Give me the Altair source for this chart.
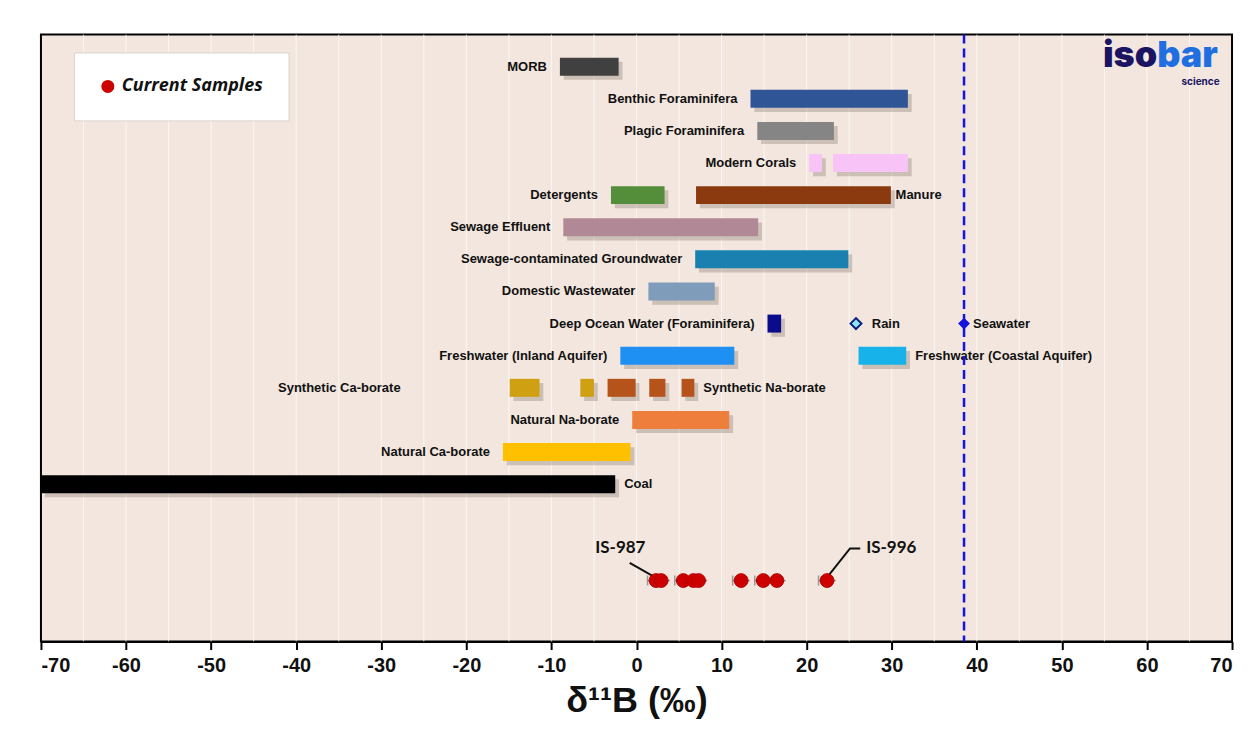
import altair as alt
import pandas as pd

# ---------------- data ----------------
bar_names = ["MORB", "Benthic Foraminifera", "Plagic Foraminifera", "Modern Corals", "Modern Corals",
             "Detergents", "Manure", "Sewage Effluent", "Sewage-contaminated Groundwater",
             "Domestic Wastewater", "Deep Ocean Water (Foraminifera)", "Freshwater (Inland Aquifer)",
             "Freshwater (Coastal Aquifer)", "Synthetic Ca-borate", "Synthetic Ca-borate",
             "Synthetic Na-borate", "Synthetic Na-borate", "Synthetic Na-borate",
             "Natural Na-borate", "Natural Ca-borate", "Coal"]
bar_lo = [-9.0, 13.4, 14.2, 20.3, 23.1, -3.0, 7.0, -8.6, 6.9, 1.4, 15.4, -1.9, 26.1,
          -14.9, -6.6, -3.4, 1.5, 5.3, -0.5, -15.7, -70.0]
bar_hi = [-2.1, 31.9, 23.2, 21.8, 31.9, 3.3, 29.9, 14.3, 24.9, 9.2, 17.0, 11.5, 31.7,
          -11.4, -5.0, -0.1, 3.4, 6.8, 10.9, -0.7, -2.5]
bar_row = [1, 2, 3, 4, 4, 5, 5, 6, 7, 8, 9, 10, 10, 11, 11, 11, 11, 11, 12, 13, 14]

color_names = ["MORB", "Benthic Foraminifera", "Plagic Foraminifera", "Modern Corals", "Detergents",
               "Manure", "Sewage Effluent", "Sewage-contaminated Groundwater", "Domestic Wastewater",
               "Deep Ocean Water (Foraminifera)", "Freshwater (Inland Aquifer)",
               "Freshwater (Coastal Aquifer)", "Synthetic Ca-borate", "Synthetic Na-borate",
               "Natural Na-borate", "Natural Ca-borate", "Coal"]
color_values = ["#404040", "#2F5597", "#858585", "#F8C3F6", "#548E3A",
                "#8B3A0F", "#B08896", "#1A80B0", "#7F9CBB",
                "#0A0C8C", "#1E90F4",
                "#18B2EA", "#CFA012", "#B5531B",
                "#EE7E3B", "#FFC000", "#000000"]

label_text = ["MORB", "Benthic Foraminifera", "Plagic Foraminifera", "Modern Corals", "Detergents",
              "Manure", "Sewage Effluent", "Sewage-contaminated Groundwater", "Domestic Wastewater",
              "Deep Ocean Water (Foraminifera)", "Rain", "Seawater", "Freshwater (Inland Aquifer)",
              "Freshwater (Coastal Aquifer)", "Synthetic Ca-borate", "Synthetic Na-borate",
              "Natural Na-borate", "Natural Ca-borate", "Coal"]
label_x = [-9.0, 13.4, 14.2, 20.3, -3.0, 29.4, -8.6, 6.9, 1.4, 15.4, 26.6, 38.5, -1.9,
           31.7, -26.2, 6.8, -0.5, -15.7, -2.5]
label_row = [1, 2, 3, 4, 5, 5, 6, 7, 8, 9, 9, 9, 10, 10, 11, 11, 12, 13, 14]
label_side = ["L", "L", "L", "L", "L", "R", "L", "L", "L", "L", "R", "R", "L",
              "R", "L", "R", "L", "L", "R"]

rain_x = [25.8]
rain_row = [9]
seawater_x = [38.5]
seawater_row = [9]

sample_x = [2.3, 2.9, 5.5, 6.7, 7.3, 12.3, 14.9, 16.5, 22.4]
sample_err = [1.0, 1.0, 1.0, 1.0, 1.0, 1.0, 1.0, 1.0, 1.0]
sample_row = 17
sample_series = "Current Samples"

lead_x = [-0.8, 2.2, 22.4, 25.1, 26.3]
lead_row = [16.45, 16.9, 16.9, 16.0, 16.0]
lead_id = ["a", "a", "b", "b", "b"]

ann_text = ["IS-987", "IS-996"]
ann_x = [-1.9, 27.0]
ann_row = [16.0, 16.0]
ann_align = ["center", "left"]

grid_vals = [-65, -60, -55, -50, -45, -40, -35, -30, -25, -20, -15, -10, -5, 0, 5, 10, 15,
             20, 25, 30, 35, 40, 45, 50, 55, 60, 65]
tick_vals = [-70, -60, -50, -40, -30, -20, -10, 0, 10, 20, 30, 40, 50, 60, 70]

# ---------------- tables ----------------
bars = pd.DataFrame({"name": bar_names, "lo": bar_lo, "hi": bar_hi, "row": bar_row})
labels = pd.DataFrame({"text": label_text, "x": label_x, "row": label_row, "side": label_side})
samples = pd.DataFrame({"x": sample_x, "err": sample_err, "row": [sample_row] * len(sample_x),
                        "series": [sample_series] * len(sample_x)})
leads = pd.DataFrame({"x": lead_x, "row": lead_row, "id": lead_id, "order": list(range(len(lead_x)))})
anns = pd.DataFrame({"text": ann_text, "x": ann_x, "row": ann_row, "align": ann_align})
grid = pd.DataFrame({"x": grid_vals})

LABEL_FONT = "Liberation Sans, Arial, sans-serif"
NARROW = "Liberation Sans Narrow, Arial Narrow, Liberation Sans, Arial, sans-serif"

xscale = alt.Scale(domain=[-70, 70], nice=False, zero=False)
yscale = alt.Scale(domain=[0, 18.9], nice=False, zero=False, reverse=True)


def X(f="x"):
    return alt.X(f"{f}:Q", scale=xscale,
                 axis=alt.Axis(values=tick_vals, grid=False, title="δ¹¹B (‰)",
                               labelExpr="toString(datum.value)"))


def Y(f="row"):
    return alt.Y(f"{f}:Q", scale=yscale, axis=None)


grid_layer = alt.Chart(grid).mark_rule(color="#FFFFFF", strokeWidth=1.2, opacity=0.6).encode(x=X())

# soft drop shadow behind each bar (shifted a little right and down)
shadow = alt.Chart(bars).transform_calculate(
    sl="datum.lo + 0.45", sh="datum.hi + 0.45",
    y1="datum.row - 0.28 + 0.13", y2="datum.row + 0.28 + 0.13"
).mark_rect(color="#5A4A40", opacity=0.25, clip=True).encode(
    x=X("sl"), x2="sh", y=Y("y1"), y2="y2")

bar_layer = alt.Chart(bars).transform_calculate(
    y1="datum.row - 0.28", y2="datum.row + 0.28"
).mark_rect(clip=True).encode(
    x=X("lo"), x2="hi", y=Y("y1"), y2="y2",
    color=alt.Color("name:N", scale=alt.Scale(domain=color_names, range=color_values), legend=None))

left_labels = alt.Chart(labels).transform_filter("datum.side == 'L'").mark_text(
    align="right", baseline="middle", dx=-13, fontSize=13, fontWeight="bold", font=LABEL_FONT,
    color="#111111").encode(x=X(), y=Y(), text="text:N")
right_labels = alt.Chart(labels).transform_filter("datum.side == 'R'").mark_text(
    align="left", baseline="middle", dx=9, fontSize=13, fontWeight="bold", font=LABEL_FONT,
    color="#111111").encode(x=X(), y=Y(), text="text:N")

seawater_line = alt.Chart(pd.DataFrame({"x": seawater_x})).mark_rule(
    color="#1515DD", strokeWidth=2.5, strokeDash=[9, 5]).encode(x=X())

rain = alt.Chart(pd.DataFrame({"x": rain_x, "row": rain_row})).mark_point(
    shape="diamond", filled=True, fill="#8FE4F8", stroke="#0C1E7C", strokeWidth=2, size=120,
    opacity=1).encode(x=X(), y=Y())
seawater = alt.Chart(pd.DataFrame({"x": seawater_x, "row": seawater_row})).mark_point(
    shape="diamond", filled=True, color="#1414E0", size=140, opacity=1).encode(x=X(), y=Y())

err_layer = alt.Chart(samples).transform_calculate(
    lo="datum.x - datum.err", hi="datum.x + datum.err"
).mark_rule(color="#777777", strokeWidth=1.5).encode(x=X("lo"), x2="hi", y=Y())
err_caps = alt.Chart(samples).transform_calculate(
    lo="datum.x - datum.err"
).mark_tick(color="#777777", orient="vertical", size=10, thickness=1.5).encode(x=X("lo"), y=Y())

lead_layer = alt.Chart(leads).mark_line(color="#111111", strokeWidth=2).encode(
    x=X(), y=Y(), detail="id:N", order="order:Q")

sample_layer = alt.Chart(samples).mark_point(filled=True, size=190, opacity=1,
                                             stroke="#B00000", strokeWidth=1).encode(
    x=X(), y=Y(),
    color=alt.Color("series:N", scale=alt.Scale(domain=[sample_series], range=["#CC0000"]),
                    legend=alt.Legend(title=None, orient="none", legendX=33, legendY=18,
                                      fillColor="#FFFFFF", strokeColor="#D9D2CE", padding=25,
                                      symbolType="circle", symbolSize=170, symbolStrokeWidth=0,
                                      labelFont="Open Sans, Lato, sans-serif", labelFontSize=18,
                                      labelFontWeight="bold", labelFontStyle="italic",
                                      labelColor="#111111", labelOffset=5, labelLimit=300)))

ann_left = alt.Chart(anns).transform_filter("datum.align == 'center'").mark_text(
    align="center", baseline="middle", fontSize=17, fontWeight="bold",
    font="Lato, Open Sans, sans-serif", color="#111111").encode(x=X(), y=Y(), text="text:N")
ann_right = alt.Chart(anns).transform_filter("datum.align == 'left'").mark_text(
    align="left", baseline="middle", fontSize=17, fontWeight="bold",
    font="Lato, Open Sans, sans-serif", color="#111111").encode(x=X(), y=Y(), text="text:N")

logo_iso = alt.Chart(pd.DataFrame({"x": [61.2], "row": [1.02], "t": ["iso"]})).mark_text(
    align="right", baseline="alphabetic", fontSize=36, fontWeight=900, font="Inter, Lato, sans-serif",
    color="#1B1463").encode(x=X(), y=Y(), text="t:N")
logo_bar = alt.Chart(pd.DataFrame({"x": [61.2], "row": [1.02], "t": ["bar"]})).mark_text(
    align="left", baseline="alphabetic", fontSize=36, fontWeight=900, font="Inter, Lato, sans-serif",
    color="#1F6FE0").encode(x=X(), y=Y(), text="t:N")
logo_sci = alt.Chart(pd.DataFrame({"x": [66.3], "row": [1.33], "t": ["science"]})).mark_text(
    align="center", baseline="top", fontSize=10, fontWeight="bold", font="Inter, Lato, sans-serif",
    color="#1B1463").encode(x=X(), y=Y(), text="t:N")

chart = alt.layer(
    grid_layer, shadow, bar_layer, left_labels, right_labels, seawater_line, rain, seawater,
    err_layer, err_caps, lead_layer, sample_layer, ann_left, ann_right, logo_iso, logo_bar, logo_sci
).resolve_scale(
    color="independent"
).properties(
    width=1193, height=608, background="#FFFFFF",
    padding={"left": 32, "top": 24, "right": 16, "bottom": 4}
).configure_view(
    fill="#F2E6DE", stroke="#000000", strokeWidth=2
).configure_axisX(
    domainColor="#000000", domainWidth=2, tickColor="#000000", tickWidth=2, tickSize=8,
    labelFont=NARROW, labelFontSize=20, labelFontWeight="bold", labelColor="#111111", labelPadding=6,
    titleFont=NARROW, titleFontSize=36, titleFontWeight="bold", titleColor="#111111", titlePadding=8
)

chart.save("out.html", embed_options={"renderer": "svg", "actions": False})
